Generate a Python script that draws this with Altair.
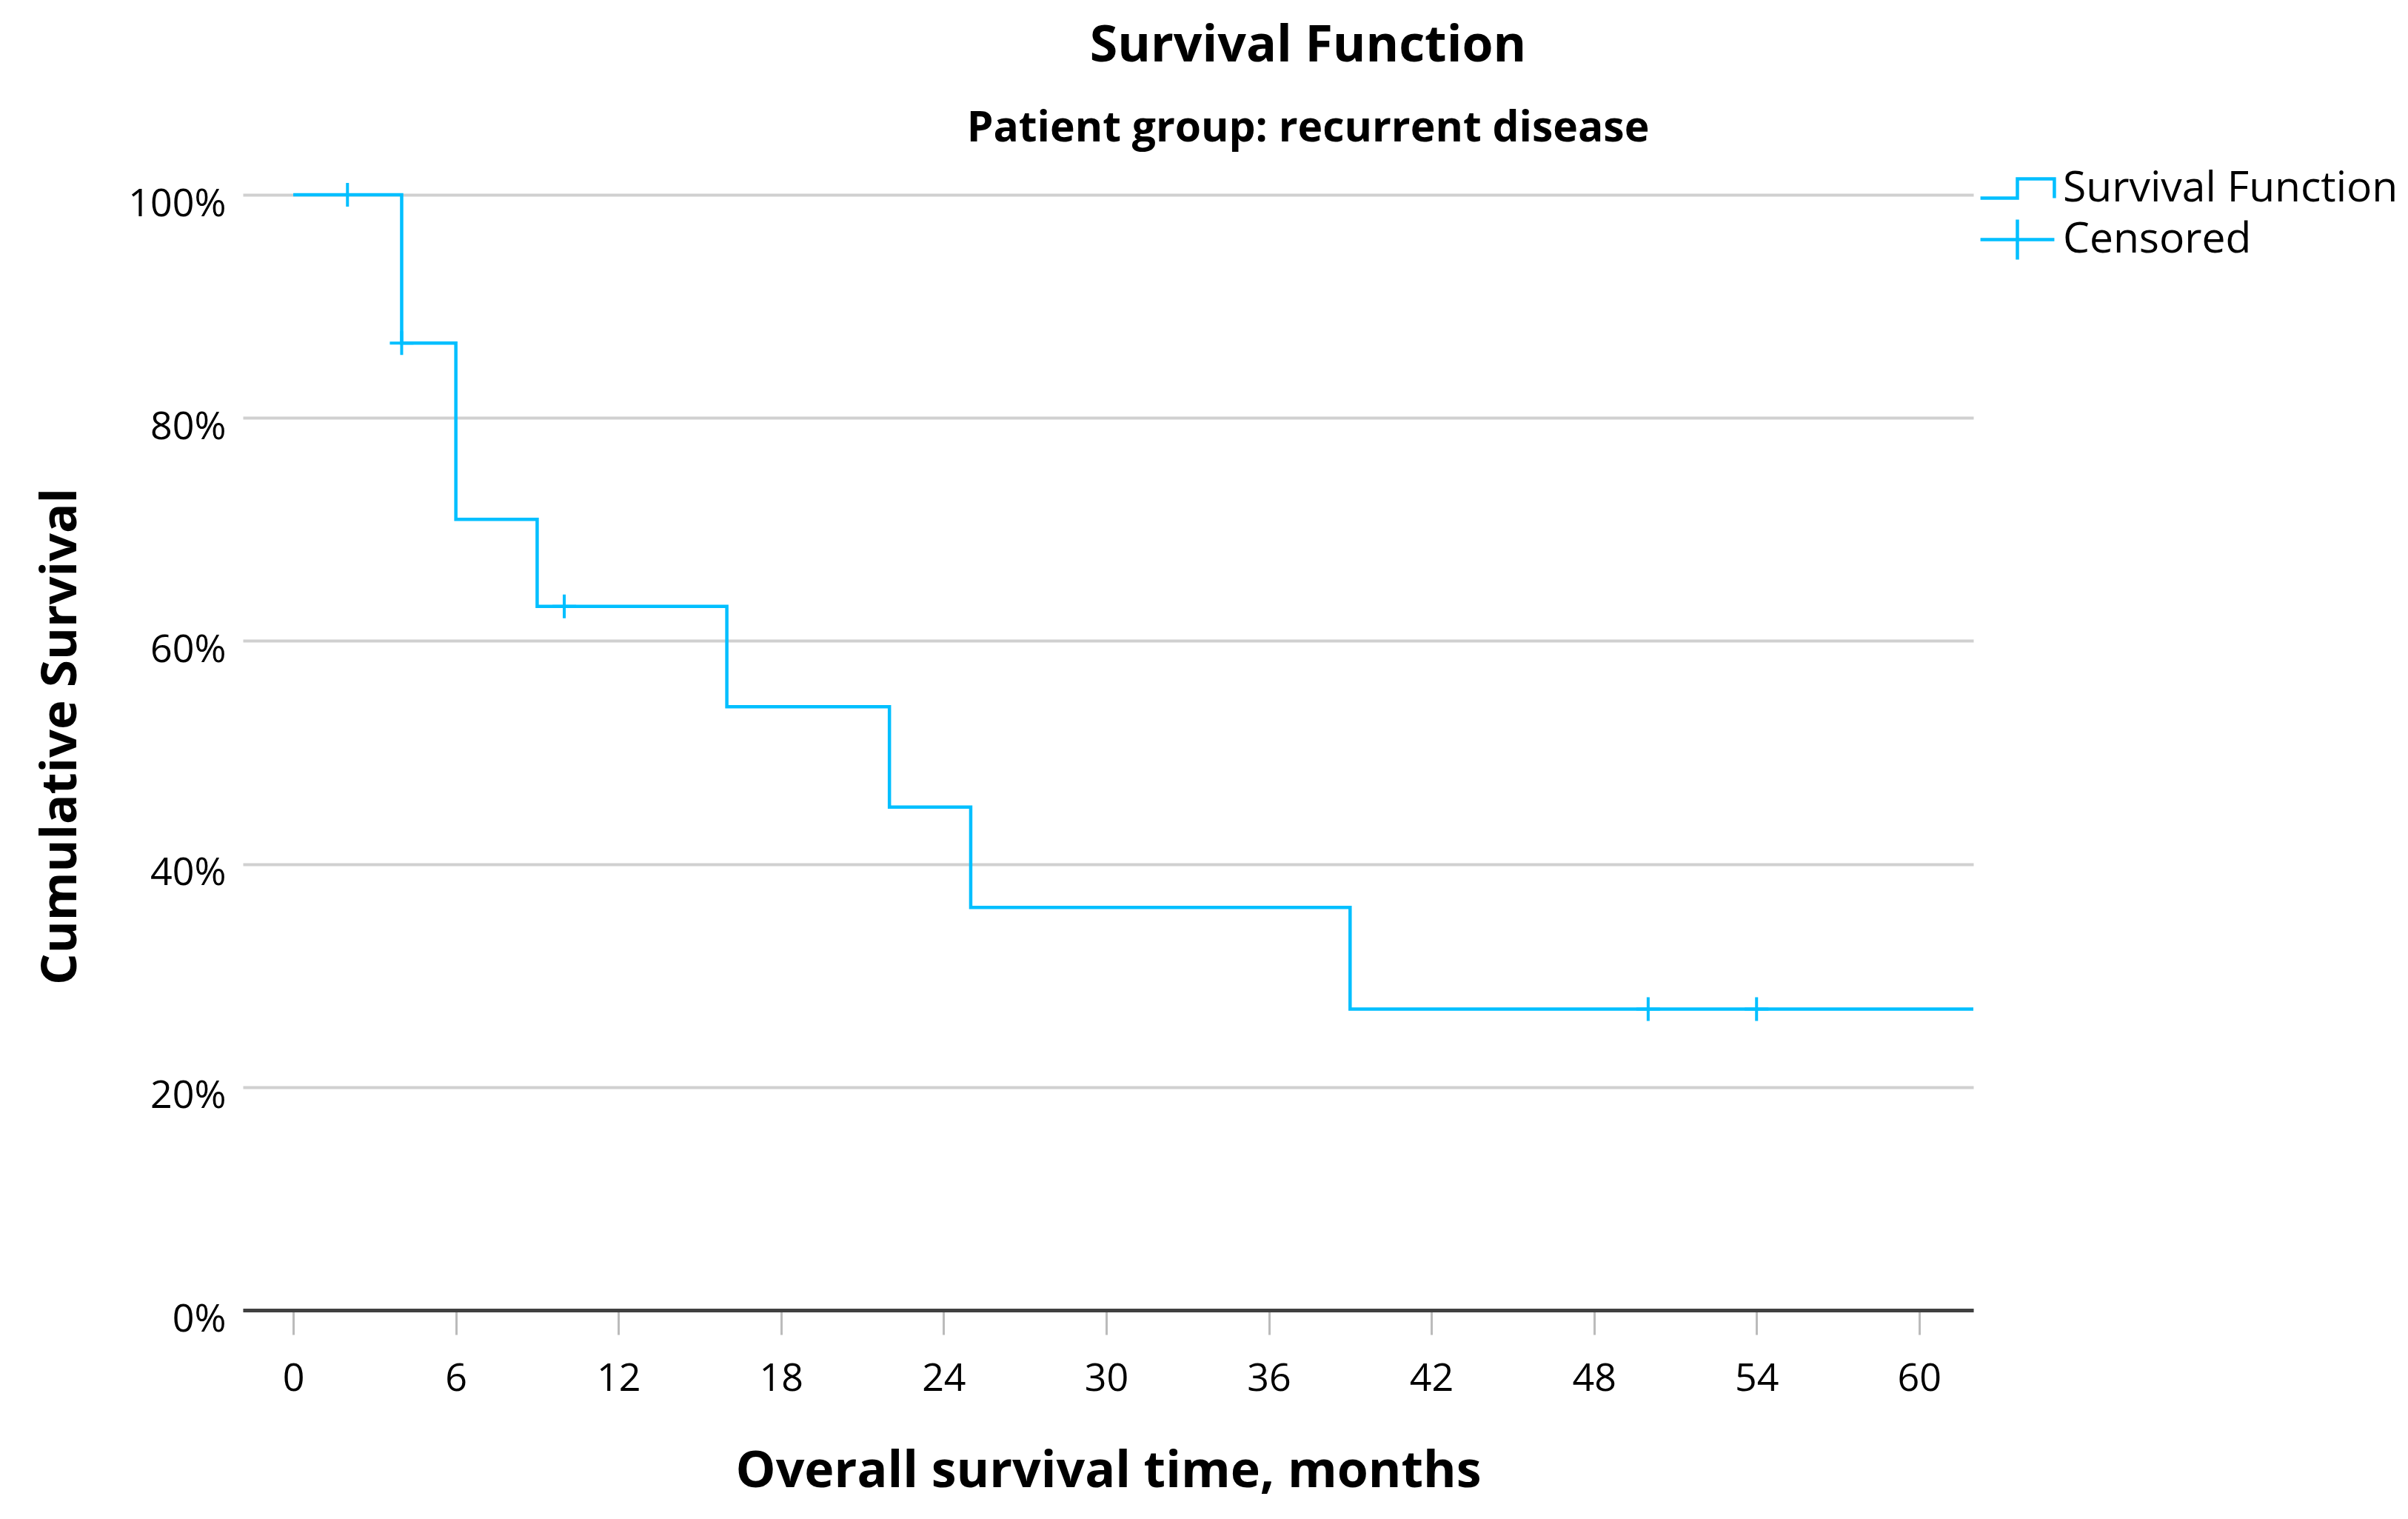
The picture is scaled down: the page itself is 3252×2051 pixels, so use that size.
import altair as alt
import pandas as pd

# ---- data ----
step_time = [0, 4, 6, 9, 16, 22, 25, 39, 62]
step_surv = [1.0, 0.867, 0.709, 0.631, 0.541, 0.451, 0.361, 0.270, 0.270]
cens_time = [2, 4, 10, 50, 54]
cens_surv = [1.0, 0.867, 0.631, 0.270, 0.270]
x_ticks = [0, 6, 12, 18, 24, 30, 36, 42, 48, 54, 60]
y_ticks = [0.0, 0.2, 0.4, 0.6, 0.8, 1.0]
legend_items = ["Survival Function", "Censored"]

BLUE = "#00BFFF"
FONT = "Open Sans"
STEP_PATH = "M-1.56,0.41L0,0.41L0,-0.41L1.56,-0.41L1.56,0.41"
CROSS_LEGEND = "M-1.56,0L1.56,0M0,-0.84L0,0.84"
CROSS_MARK = "M-1,0L1,0M0,-1L0,1"

step_df = pd.DataFrame({"time": step_time, "surv": step_surv})
cens_df = pd.DataFrame({"time": cens_time, "surv": cens_surv})
leg_df = pd.DataFrame({"series": legend_items})

x_scale = alt.Scale(domain=[-1.86, 62], nice=False, zero=False)
y_scale = alt.Scale(domain=[0, 1], nice=False)

x_axis = alt.Axis(
    values=x_ticks, title="Overall survival time, months", grid=False,
    domainColor="#404040", domainWidth=5,
    tickColor="#bbbbbb", tickWidth=3, tickSize=33,
    labelFont=FONT, labelFontSize=52, labelColor="black",
    labelBaseline="alphabetic", labelPadding=75, labelFlush=False,
    titleFont=FONT, titleFontSize=68, titleFontWeight="bold", titleColor="black",
    titleBaseline="alphabetic", titleY=238,
)
y_axis = alt.Axis(
    values=y_ticks, format=".0%", title="Cumulative Survival",
    domain=False, ticks=False, tickSize=0,
    grid=True, gridColor="#d0d0d0", gridWidth=4,
    labelFont=FONT, labelFontSize=52, labelColor="black",
    labelBaseline="alphabetic", labelOffset=28, labelPadding=23,
    titleFont=FONT, titleFontSize=67, titleFontWeight="bold", titleColor="black",
    titleBaseline="alphabetic", titleAlign="center", titleX=-226, titleY=731,
)

line = alt.Chart(step_df).mark_line(
    interpolate="step-after", color=BLUE, strokeWidth=4.5
).encode(
    x=alt.X("time:Q", scale=x_scale, axis=x_axis),
    y=alt.Y("surv:Q", scale=y_scale, axis=y_axis),
)

cens = alt.Chart(cens_df).mark_point(
    shape=CROSS_MARK, size=1024, filled=False, color=BLUE, strokeWidth=4, opacity=1
).encode(
    x=alt.X("time:Q", scale=x_scale, axis=x_axis),
    y=alt.Y("surv:Q", scale=y_scale, axis=y_axis),
)

legend_layer = alt.Chart(leg_df).mark_point(
    filled=False, color=BLUE, strokeWidth=4.5, size=4096, opacity=1
).encode(
    shape=alt.Shape(
        "series:N",
        scale=alt.Scale(domain=legend_items, range=[STEP_PATH, CROSS_LEGEND]),
        legend=alt.Legend(
            title=None, orient="none", legendX=2362, legendY=-43, direction="vertical",
            padding=0, rowPadding=4, symbolSize=4096, symbolStrokeWidth=4.5,
            symbolStrokeColor=BLUE, symbolFillColor="transparent",
            labelFont=FONT, labelFontSize=57, labelColor="black",
            labelOffset=27, labelLimit=1000,
        ),
    )
).transform_filter("false")

chart = alt.layer(line, cens, legend_layer).properties(
    width=2337, height=1506,
    background="white",
    autosize=alt.AutoSizeParams(type="none"),
    padding={"left": 320, "top": 255, "right": 578, "bottom": 270},
    title=alt.TitleParams(
        text="Survival Function", subtitle="Patient group: recurrent disease",
        font=FONT, fontSize=68, fontWeight="bold", color="black",
        subtitleFont=FONT, subtitleFontSize=57, subtitleFontWeight="bold",
        subtitleColor="black", subtitlePadding=49,
        anchor="middle", frame="group", dx=270, offset=18,
    ),
).configure_view(stroke="transparent", strokeWidth=0)

chart.save("out.html", embed_options={"renderer": "svg", "actions": False})
